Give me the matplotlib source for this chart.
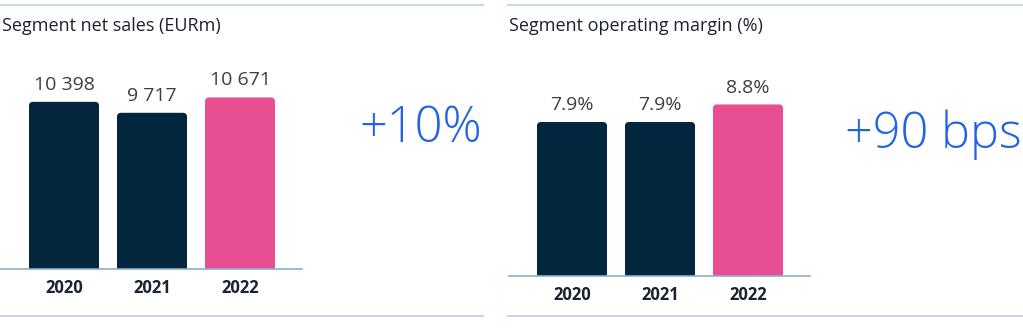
import matplotlib
matplotlib.use("Agg")
import matplotlib.pyplot as plt
from matplotlib.patches import FancyBboxPatch
from matplotlib.lines import Line2D

years = ["2020", "2021", "2022"]
net_sales = [10398, 9717, 10671]
net_sales_labels = ["10 398", "9 717", "10 671"]
op_margin = [7.9, 7.9, 8.8]
op_margin_labels = ["7.9%", "7.9%", "8.8%"]
sales_change = "+10%"
margin_change = "+90 bps"

NAVY = "#03263f"
PINK = "#e84f93"
BLUE = "#2263e6"
TEXT = "#1b2333"
VALUE = "#3a3f46"
BASE = "#8eaed0"
RULE = "#c6d7f2"

plt.rcParams["font.family"] = ["Open Sans", "DejaVu Sans"]

W, H = 1023, 330
fig = plt.figure(figsize=(W / 100, H / 100), dpi=100)


def fx(x):
    return x / W


def fy(y):
    return 1 - y / H


def panel(left, right, base, top, ymax, centers):
    ax = fig.add_axes([fx(left), fy(base), fx(right - left), (base - top) / H])
    step = 88
    ax.set_xlim(-centers[0] / step, (right - left - centers[0]) / step)
    ax.set_ylim(0, ymax)
    for s in ["top", "right", "left"]:
        ax.spines[s].set_visible(False)
    ax.spines["bottom"].set_color(BASE)
    ax.spines["bottom"].set_linewidth(1.2)
    ax.set_yticks([])
    ax.set_xticks(range(len(years)))
    ax.set_xticklabels(years, fontsize=12, fontweight="bold", color=TEXT)
    ax.tick_params(axis="x", length=0, pad=7.5)
    ax.patch.set_alpha(0)
    return ax


def draw_bars(ax, values, labels):
    width = 70 / 88
    colors = [NAVY, NAVY, PINK]
    bars = ax.bar(range(len(values)), values, width=width, color="none")
    # pixel size of one data unit, for rounded corners
    fig.canvas.draw()
    p0 = ax.transData.transform((0, 0))
    p1 = ax.transData.transform((1, 1))
    xpx = p1[0] - p0[0]
    ypx = p1[1] - p0[1]
    r = 4 / xpx
    aspect = xpx / ypx
    for b, c, v, lab in zip(bars, colors, values, labels):
        x0 = b.get_x()
        w = b.get_width()
        bottom = -6 / ypx
        patch = FancyBboxPatch((x0, bottom), w, v - bottom,
                               boxstyle=f"round,pad=0,rounding_size={r}",
                               mutation_aspect=aspect, facecolor=c,
                               edgecolor="none", clip_on=True)
        ax.add_patch(patch)
        ax.annotate(lab, (x0 + w / 2, v), xytext=(0, 8.6),
                    textcoords="offset points", ha="center", va="baseline",
                    fontsize=14, color=VALUE)


ax1 = panel(0, 302, 269, 60, 13000, [64, 152, 240])
draw_bars(ax1, net_sales, net_sales_labels)

ax2 = panel(509, 810, 276, 60, 11.08, [63, 151, 239])
draw_bars(ax2, op_margin, op_margin_labels)

fig.text(fx(2), fy(31), "Segment net sales (EURm)", fontsize=13,
         color=TEXT, ha="left", va="baseline")
fig.text(fx(509), fy(31), "Segment operating margin (%)", fontsize=13,
         color=TEXT, ha="left", va="baseline")

fig.text(fx(421), fy(142), sales_change, fontsize=35, fontweight="light",
         color=BLUE, ha="center", va="baseline")
fig.text(fx(933), fy(148), margin_change, fontsize=35, fontweight="light",
         color=BLUE, ha="center", va="baseline")

for x0, x1 in [(0, 483), (508, 1023)]:
    for y in (5, 316):
        fig.add_artist(Line2D([fx(x0), fx(x1)], [fy(y), fy(y)],
                              color=RULE, linewidth=1.5,
                              transform=fig.transFigure))

fig.savefig("out.png", dpi=100, facecolor="white")
